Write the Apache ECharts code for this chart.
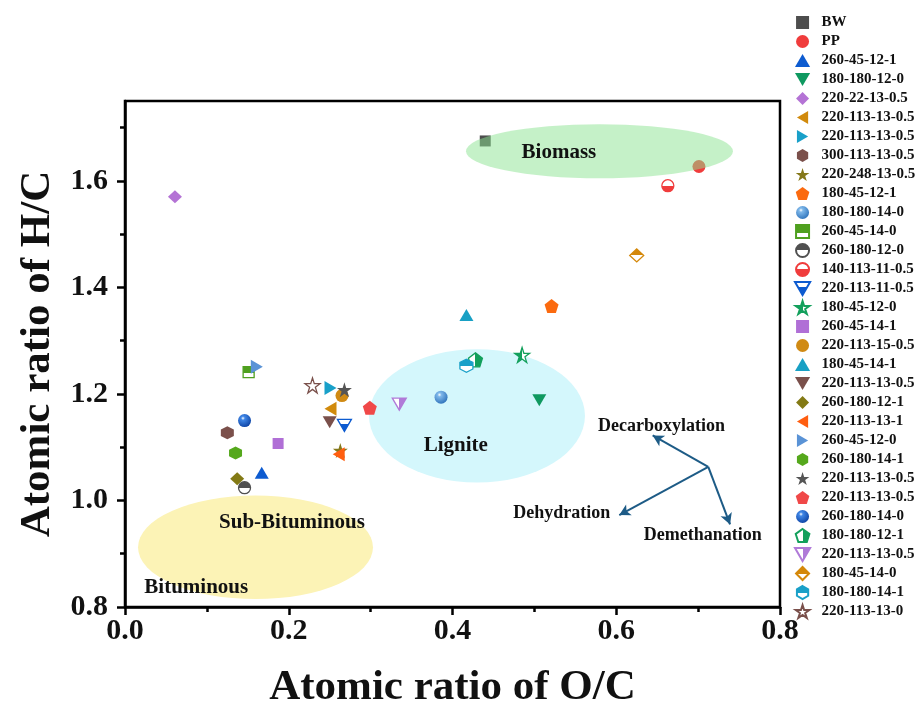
<!DOCTYPE html>
<html>
<head>
<meta charset="utf-8">
<script src="https://cdn.jsdelivr.net/npm/echarts@6/dist/echarts.min.js"></script>
<style>html,body{margin:0;padding:0;background:#fff}#c{width:924px;height:714px}</style>
</head>
<body>
<div id="c"></div>
<script>
// ---------- data ----------
const categories = ['BW','PP','260-45-12-1','180-180-12-0','220-22-13-0.5','220-113-13-0.5','220-113-13-0.5','300-113-13-0.5','220-248-13-0.5','180-45-12-1','180-180-14-0','260-45-14-0','260-180-12-0','140-113-11-0.5','220-113-11-0.5','180-45-12-0','260-45-14-1','220-113-15-0.5','180-45-14-1','220-113-13-0.5','260-180-12-1','220-113-13-1','260-45-12-0','260-180-14-1','220-113-13-0.5','220-113-13-0.5','260-180-14-0','180-180-12-1','220-113-13-0.5','180-45-14-0','180-180-14-1','220-113-13-0'];
const ocRatio = [0.440,0.701,0.167,0.506,0.061,0.251,0.251,0.125,0.263,0.521,0.386,0.151,0.146,0.663,0.268,0.485,0.187,0.265,0.417,0.250,0.137,0.261,0.161,0.135,0.268,0.299,0.146,0.428,0.335,0.625,0.417,0.229];
const hcRatio = [1.675,1.627,1.052,1.188,1.570,1.172,1.211,1.127,1.094,1.365,1.194,1.241,1.024,1.591,1.141,1.273,1.107,1.197,1.348,1.147,1.041,1.087,1.251,1.089,1.208,1.174,1.150,1.264,1.181,1.460,1.253,1.216];
const xTicks = [0.0,0.2,0.4,0.6,0.8];
const yTicks = [0.8,1.0,1.2,1.4,1.6];
const yMinorTicks = [0.9,1.1,1.3,1.5,1.7];
const regionNames = ['Biomass','Lignite','Sub-Bituminous','Bituminous'];
const regionLabelX = [0.530,0.404,0.204,0.087];
const regionLabelY = [1.654,1.103,0.959,0.837];
const ellipseCX = [0.5795,0.4299,0.1594];
const ellipseCY = [1.6557,1.1589,0.912];
const ellipseRX = [0.163,0.1319,0.1435];
const ellipseRY = [0.0508,0.1252,0.0972];
const arrowNames = ['Decarboxylation','Dehydration','Demethanation'];
const arrowFrom = [0.7124,1.063];
const arrowToX = [0.6445,0.6037,0.739];
const arrowToY = [1.122,0.9725,0.955];
const arrowLabelX = [0.6554,0.5334,0.7056];
const arrowLabelY = [1.1396,0.9757,0.935];

// ---------- styles ----------
const FONT = "'Times New Roman','Liberation Serif',serif";
const P = {
  rect: 'path://M0,0L100,0L100,100L0,100Z',
  tri: 'path://M50,0L100,86L0,86Z',
  diamond: 'path://M50,0L100,50L50,100L0,50Z',
  invTri: 'path://M0,0L100,0L50,86Z',
  leftTri: 'path://M0,50L86,0L86,100Z',
  rightTri: 'path://M0,0L86,50L0,100Z',
  hex: 'path://M50,0L93.3,25L93.3,75L50,100L6.7,75L6.7,25Z',
  pent: 'path://M50,0L97.6,34.5L79.4,90.5L20.6,90.5L2.4,34.5Z',
  star: 'path://M50,0L61.23,34.55L97.55,34.55L68.17,55.9L79.39,90.45L50,69.1L20.61,90.45L31.83,55.9L2.45,34.55L38.77,34.55Z'
};
function half(c, dir, split){
  const s = split == null ? 0.5 : split;
  let g;
  if (dir === 'top') g = {x:0,y:0,x2:0,y2:1,a:c,b:'#fff'};
  else if (dir === 'bottom') g = {x:0,y:0,x2:0,y2:1,a:'#fff',b:c};
  else if (dir === 'right') g = {x:0,y:0,x2:1,y2:0,a:'#fff',b:c};
  else g = {x:0,y:0,x2:1,y2:0,a:c,b:'#fff'};
  return {type:'linear',x:g.x,y:g.y,x2:g.x2,y2:g.y2,global:false,colorStops:[{offset:0,color:g.a},{offset:s,color:g.a},{offset:s,color:g.b},{offset:1,color:g.b}]};
}
function sphere(light, dark){
  return {type:'radial',x:0.38,y:0.32,r:0.75,global:false,colorStops:[{offset:0,color:'#ffffff'},{offset:0.2,color:light},{offset:1,color:dark}]};
}
const markerStyles = [
  {s:P.rect, size:11, c:'#4d4d4d'},
  {s:'circle', size:13, c:'#f03c3c'},
  {s:P.tri, size:[14,12], c:'#0d5bd0'},
  {s:P.invTri, size:[14,12], c:'#0f9960'},
  {s:P.diamond, size:[14,13], c:'#b473d5'},
  {s:P.leftTri, size:[12,14], c:'#d18a0c'},
  {s:P.rightTri, size:[12,14], c:'#19a0c9'},
  {s:P.hex, size:13, c:'#7b504b'},
  {s:P.star, size:15, c:'#85781a'},
  {s:P.pent, size:14, c:'#fb6a0f'},
  {s:'circle', size:13, c:'#4b95d8', fill:sphere('#7fb8ea','#2a6fb8')},
  {s:P.rect, size:11, c:'#4fa01f', fill:half('#4fa01f','top',0.6), border:true},
  {s:'circle', size:12, c:'#505050', fill:half('#505050','top'), border:true},
  {s:'circle', size:12, c:'#f03c3c', fill:half('#f03c3c','bottom'), border:true},
  {s:P.invTri, size:[14,12], c:'#0d5bd0', fill:half('#0d5bd0','bottom',0.4), border:true},
  {s:P.star, size:15, c:'#13a05c', fill:half('#13a05c','left',0.5), border:true},
  {s:P.rect, size:11, c:'#b06fd6'},
  {s:'circle', size:13, c:'#d08a14'},
  {s:P.tri, size:[14,12], c:'#18a0c4'},
  {s:P.invTri, size:[14,12], c:'#7a504b'},
  {s:P.diamond, size:[14,13], c:'#837a15'},
  {s:P.leftTri, size:[12,14], c:'#ff5e10'},
  {s:P.rightTri, size:[12,14], c:'#5a93d6'},
  {s:P.hex, size:13, c:'#55a81c'},
  {s:P.star, size:15, c:'#555555'},
  {s:P.pent, size:14, c:'#f04848'},
  {s:'circle', size:13, c:'#1565d8', fill:sphere('#3f86e6','#0a3fa0')},
  {s:P.pent, size:14, c:'#13a05c', fill:half('#13a05c','right'), border:true},
  {s:P.invTri, size:[14,12], c:'#b07ad8', fill:half('#b07ad8','right'), border:true},
  {s:P.diamond, size:[14,13], c:'#d4880a', fill:half('#d4880a','top'), border:true},
  {s:P.hex, size:13, c:'#1aa0c8', fill:half('#1aa0c8','top'), border:true},
  {s:P.star, size:15, c:'#7a504b', fill:'#ffffff', border:true}
];
const ellipseFills = ['#8be391','#d4f7fc','#fcf3b6'];
const ellipseOpacity = [0.5,1,1];

// ---------- build ----------
const seriesNames = categories.map((n,i)=> n + '#' + i);
const scatterSeries = categories.map((n,i)=>{
  const st = markerStyles[i];
  return {
    type:'scatter', name: seriesNames[i], z:3,
    symbol: st.s, symbolSize: st.size,
    itemStyle: {color: st.fill || st.c, borderColor: st.c, borderWidth: st.border ? 1.3 : 0, opacity:1},
    emphasis:{disabled:true},
    data: [[ocRatio[i], hcRatio[i]]]
  };
});
function ellipseSeries(indices, z){
  return {
    type:'custom', z:z, silent:true, animation:false,
    data: indices.map(i=>[ellipseCX[i], ellipseCY[i], ellipseRX[i], ellipseRY[i], i]),
    renderItem: function(params, api){
      const c = api.coord([api.value(0), api.value(1)]);
      const s = api.size([api.value(2), api.value(3)]);
      const k = api.value(4);
      return {type:'circle', shape:{cx:0,cy:0,r:1}, x:c[0], y:c[1], scaleX:s[0], scaleY:s[1],
        style:{fill: ellipseFills[k], opacity: ellipseOpacity[k]}};
    }
  };
}
const labelData = regionNames.map((t,i)=>[regionLabelX[i], regionLabelY[i], t, 21])
  .concat(arrowNames.map((t,i)=>[arrowLabelX[i], arrowLabelY[i], t, 18]));
const labelSeries = {
  type:'custom', z:6, silent:true,
  data: labelData,
  renderItem: function(params, api){
    const d = labelData[params.dataIndex];
    const c = api.coord([d[0], d[1]]);
    return {type:'text', x:c[0], y:c[1], style:{text:d[2], fontSize:d[3], fontWeight:'bold', fontFamily:FONT, fill:'#111', align:'center', verticalAlign:'middle'}};
  }
};
const arrowSeries = {
  type:'scatter', name:'arrows', data:[], z:5, silent:true,
  markLine:{
    silent:true, animation:false, symbol:['none','arrow'], symbolSize:[9,11],
    lineStyle:{color:'#1d5b86', width:2, type:'solid'}, label:{show:false},
    data: arrowToX.map((x,i)=>[{coord:arrowFrom},{coord:[x, arrowToY[i]]}])
  }
};

const chart = echarts.init(document.getElementById('c'), null, {renderer:'canvas'});
chart.setOption({
  animation:false,
  backgroundColor:'#fff',
  grid:{left:125, right:144, top:101, bottom:105, show:true, borderColor:'#000', borderWidth:2.5, backgroundColor:'transparent'},
  legend:{
    orient:'vertical', left:794, top:15, padding:0, itemWidth:28, itemHeight:13, itemGap:4,
    selectedMode:false, data: seriesNames,
    formatter: name => name.split('#')[0],
    textStyle:{fontSize:15, fontWeight:'bold', fontFamily:FONT, color:'#111'}
  },
  xAxis:{
    type:'value', min:0, max:0.8, interval:0.2,
    name:'Atomic ratio of O/C', nameLocation:'middle', nameGap:59,
    nameTextStyle:{fontSize:43, fontWeight:'bold', fontFamily:FONT, color:'#111'},
    axisLine:{show:true, lineStyle:{color:'#000', width:2.5}},
    axisTick:{show:true, inside:false, length:8, lineStyle:{color:'#000', width:2.5}},
    minorTick:{show:true, splitNumber:2, length:5, lineStyle:{color:'#000', width:2.5}},
    axisLabel:{fontSize:30, fontWeight:'bold', fontFamily:FONT, color:'#111', margin:9,
      formatter: v => xTicks.some(t=>Math.abs(t-v)<1e-9) ? v.toFixed(1) : ''},
    splitLine:{show:false}
  },
  yAxis:[{
    type:'value', min:0.8, max:1.75, position:'left',
    name:'Atomic ratio of H/C', nameLocation:'middle', nameGap:63,
    nameTextStyle:{fontSize:43, fontWeight:'bold', fontFamily:FONT, color:'#111'},
    axisLine:{show:true, lineStyle:{color:'#000', width:2.5}},
    axisTick:{show:true, inside:false, length:8, customValues:yTicks, lineStyle:{color:'#000', width:2.5}},
    axisLabel:{fontSize:30, fontWeight:'bold', fontFamily:FONT, color:'#111', margin:17, customValues:yTicks,
      formatter: v => v.toFixed(1)},
    splitLine:{show:false}
  },{
    type:'value', min:0.8, max:1.75, position:'left', offset:0,
    axisLine:{show:false},
    axisTick:{show:true, inside:false, length:5, customValues:yMinorTicks, lineStyle:{color:'#000', width:2.5}},
    axisLabel:{show:false},
    splitLine:{show:false}
  }],
  series: [ellipseSeries([1,2], 1)].concat(scatterSeries, [ellipseSeries([0], 4), arrowSeries, labelSeries])
});
</script>
</body>
</html>
